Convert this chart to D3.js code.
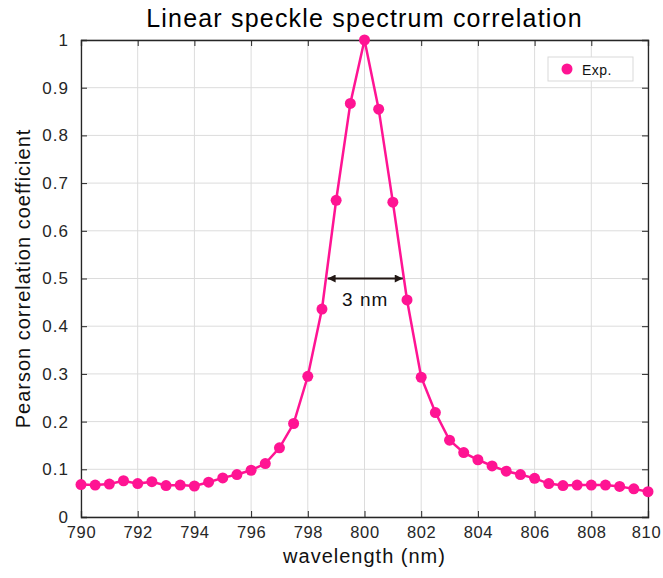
<!DOCTYPE html>
<html>
<head>
<meta charset="utf-8">
<script src="https://cdn.jsdelivr.net/npm/d3@7"></script>
<style>
  body { margin: 0; background: #fff; }
  text { font-family: "Liberation Sans", Arial, sans-serif; }
</style>
</head>
<body>
<svg id="chart" width="663" height="578"></svg>
<script>
// wavelength (nm) e coefficiente di correlazione
const wavelength = [790, 790.5, 791, 791.5, 792, 792.5, 793, 793.5, 794, 794.5,
  795, 795.5, 796, 796.5, 797, 797.5, 798, 798.5, 799, 799.5,
  800, 800.5, 801, 801.5, 802, 802.5, 803, 803.5, 804, 804.5,
  805, 805.5, 806, 806.5, 807, 807.5, 808, 808.5, 809, 809.5, 810]
const correlation = [0.068, 0.067, 0.069, 0.076, 0.070, 0.074, 0.066, 0.067, 0.065, 0.073,
  0.082, 0.089, 0.098, 0.112, 0.145, 0.196, 0.295, 0.436, 0.664, 0.867,
  1.0, 0.855, 0.660, 0.455, 0.293, 0.219, 0.161, 0.135, 0.120, 0.107,
  0.096, 0.089, 0.081, 0.070, 0.066, 0.067, 0.067, 0.067, 0.064, 0.059, 0.053]
const xTicks = [790, 792, 794, 796, 798, 800, 802, 804, 806, 808, 810]
const yTicks = [0, 0.1, 0.2, 0.3, 0.4, 0.5, 0.6, 0.7, 0.8, 0.9, 1]
const fwhm = [798.7, 801.35]   // estremi della freccia a 0.5
const fwhmLevel = 0.5

const pink = '#ff1493'
const axisColor = '#262626'

const svg = d3.select('#chart')
const margin = { left: 81, right: 15, top: 40, bottom: 61 }
const W = 663, H = 578

const x = d3.scaleLinear().domain([790, 810]).range([margin.left, W - margin.right])
const y = d3.scaleLinear().domain([0, 1]).range([H - margin.bottom, margin.top])

// griglia
const grid = svg.append('g')
grid.selectAll('.gx').data(xTicks).join('line')
  .attr('x1', d => x(d)).attr('x2', d => x(d))
  .attr('y1', y(0)).attr('y2', y(1))
  .attr('stroke', '#dcdcdc').attr('stroke-width', 1)
grid.selectAll('.gy').data(yTicks).join('line')
  .attr('x1', x(790)).attr('x2', x(810))
  .attr('y1', d => y(d)).attr('y2', d => y(d))
  .attr('stroke', '#dcdcdc').attr('stroke-width', 1)

// assi (stile matlab, tick verso l'interno)
const fmt = d => d3.format('')(d)
const xAxis = svg.append('g')
  .attr('transform', `translate(0, ${y(0)})`)
  .call(d3.axisBottom(x).tickValues(xTicks).tickSize(-6).tickPadding(9).tickFormat(fmt))
const xTop = svg.append('g')
  .attr('transform', `translate(0, ${y(1)})`)
  .call(d3.axisTop(x).tickValues(xTicks).tickSize(-6).tickFormat(''))
const yAxis = svg.append('g')
  .attr('transform', `translate(${x(790)}, 0)`)
  .call(d3.axisLeft(y).tickValues(yTicks).tickSize(-6).tickPadding(12).tickFormat(fmt))
const yRight = svg.append('g')
  .attr('transform', `translate(${x(810)}, 0)`)
  .call(d3.axisRight(y).tickValues(yTicks).tickSize(-6).tickFormat(''))

svg.selectAll('.domain').attr('stroke', axisColor).attr('stroke-width', 1.3)
svg.selectAll('.tick line').attr('stroke', axisColor)
svg.selectAll('.tick text').attr('fill', axisColor)
  .style('font-size', '17px').style('letter-spacing', '1px')
  .style('font-family', '"Liberation Sans", Arial, sans-serif')
// etichette x un po' più strette, così "810" resta nel riquadro
xAxis.selectAll('.tick text')
  .style('font-size', '16.5px').style('letter-spacing', '0.6px')
  .attr('dx', (d, i, n) => i === n.length - 1 ? '-2px' : '0px')

// linea + marker
const line = d3.line().x((d, i) => x(wavelength[i])).y(d => y(d))
svg.append('path')
  .datum(correlation)
  .attr('d', line)
  .attr('fill', 'none')
  .attr('stroke', pink)
  .attr('stroke-width', 2.5)

svg.selectAll('.pt').data(correlation).join('circle')
  .attr('cx', (d, i) => x(wavelength[i]))
  .attr('cy', d => y(d))
  .attr('r', 5.5)
  .attr('fill', pink)

// freccia FWHM
const defs = svg.append('defs')
;['start', 'end'].forEach(k => {
  defs.append('marker')
    .attr('id', 'arrow-' + k)
    .attr('viewBox', '0 -5 10 10')
    .attr('refX', k === 'end' ? 10 : 0)
    .attr('refY', 0)
    .attr('markerWidth', 18)
    .attr('markerHeight', 8)
    .attr('markerUnits', 'userSpaceOnUse')
    .attr('orient', 'auto')
    .append('path')
    .attr('d', k === 'end' ? 'M0,-5L10,0L0,5Z' : 'M10,-5L0,0L10,5Z')
    .attr('fill', '#231815')
})
svg.append('line')
  .attr('x1', x(fwhm[0])).attr('x2', x(fwhm[1]))
  .attr('y1', y(fwhmLevel)).attr('y2', y(fwhmLevel))
  .attr('stroke', '#231815').attr('stroke-width', 2)
  .attr('marker-start', 'url(#arrow-start)')
  .attr('marker-end', 'url(#arrow-end)')
svg.append('text')
  .attr('x', (x(fwhm[0]) + x(fwhm[1])) / 2)
  .attr('y', y(fwhmLevel) + 27)
  .attr('text-anchor', 'middle')
  .style('font-size', '19px')
  .style('letter-spacing', '1px')
  .attr('fill', '#111')
  .text('3 nm')

// legenda
const lg = svg.append('g').attr('transform', 'translate(548, 57)')
lg.append('rect').attr('width', 85).attr('height', 24)
  .attr('fill', '#fff').attr('stroke', '#d9d9d9').attr('stroke-width', 1)
lg.append('circle').attr('cx', 19).attr('cy', 12).attr('r', 5.5).attr('fill', pink)
lg.append('text').attr('x', 34).attr('y', 17.5)
  .style('font-size', '14px').style('letter-spacing', '0.5px')
  .attr('fill', '#111').text('Exp.')

// titoli
svg.append('text')
  .attr('x', (x(790) + x(810)) / 2)
  .attr('y', 27)
  .attr('text-anchor', 'middle')
  .style('font-size', '25px')
  .style('letter-spacing', '1.2px')
  .attr('fill', '#000')
  .text('Linear speckle spectrum correlation')

svg.append('text')
  .attr('x', (x(790) + x(810)) / 2)
  .attr('y', 563)
  .attr('text-anchor', 'middle')
  .style('font-size', '20px')
  .style('letter-spacing', '1px')
  .attr('fill', '#111')
  .text('wavelength (nm)')

svg.append('text')
  .attr('transform', 'rotate(-90)')
  .attr('x', -(y(0) + y(1)) / 2)
  .attr('y', 30)
  .attr('text-anchor', 'middle')
  .style('font-size', '20px')
  .style('letter-spacing', '1px')
  .attr('fill', '#111')
  .text('Pearson correlation coefficient')
</script>
</body>
</html>
